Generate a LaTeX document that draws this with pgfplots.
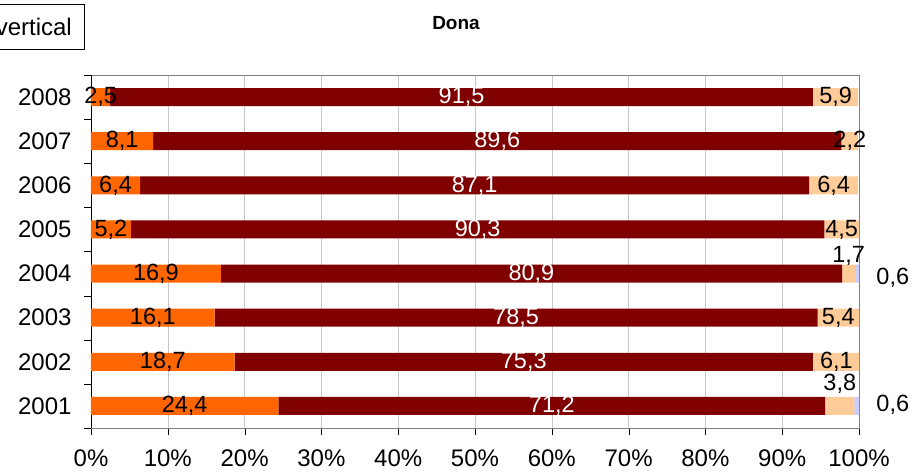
\documentclass[border=0pt]{standalone}
\usepackage{pgfplots}
\pgfplotsset{compat=1.18}
\usepackage{fontspec}
\setmainfont{Liberation Sans}
\definecolor{c1}{HTML}{FF6600}
\definecolor{c2}{HTML}{800000}
\definecolor{c3}{HTML}{FFCC99}
\definecolor{c4}{HTML}{CCCCFF}
\begin{document}
\begin{tikzpicture}
\useasboundingbox (0pt,0pt) rectangle (913pt,473pt);
\node[draw=black, fill=white, anchor=north east, minimum height=45pt, inner xsep=12pt, inner ysep=0pt, font=\fontsize{24}{28}\selectfont] at (84pt,469pt) {vertical};
\node[font=\bfseries\fontsize{19}{22}\selectfont] at (456pt,450pt) {Dona};
\begin{axis}[
  at={(91pt,45pt)}, anchor=south west, scale only axis, width=768pt, height=353pt,
  xmin=0, xmax=100, ymin=0.5, ymax=8.5,
  xbar stacked, bar width=18pt,
  xtick={0,10,...,100}, xticklabel={\pgfmathprintnumber{\tick}\%},
  ytick={1,2,3,4,5,6,7,8}, yticklabels={2001,2002,2003,2004,2005,2006,2007,2008},
  minor ytick={0.5,1.5,...,8.5},
  major y tick style={draw=none},
  tick align=outside, tick pos=left,
  major tick length=7pt, minor tick length=7pt,
  xmajorgrids, grid style={black!22},
  axis line style={black!50},
  tick style={black},
  ticklabel style={font=\fontsize{24}{28}\selectfont},
  /pgf/number format/assume math mode=true,
  yticklabel style={xshift=-9pt},
  xticklabel style={yshift=-11pt},
]
\addplot[fill=c1, draw=none] coordinates {(24.4,1) (18.7,2) (16.1,3) (16.9,4) (5.2,5) (6.4,6) (8.1,7) (2.5,8)};
\addplot[fill=c2, draw=none] coordinates {(71.2,1) (75.3,2) (78.5,3) (80.9,4) (90.3,5) (87.1,6) (89.6,7) (91.5,8)};
\addplot[fill=c3, draw=none] coordinates {(3.8,1) (6.1,2) (5.4,3) (1.7,4) (4.5,5) (6.4,6) (2.2,7) (5.9,8)};
\addplot[fill=c4, draw=none] coordinates {(0.6,1) (0,2) (0,3) (0.6,4) (0,5) (0,6) (0,7) (0,8)};
\draw[black] (axis cs:0,8.5) -- (axis cs:0,0.5) -- (axis cs:100,0.5);
\end{axis}
\begin{axis}[
  at={(91pt,45pt)}, anchor=south west, scale only axis, width=768pt, height=353pt,
  xmin=0, xmax=100, ymin=0.5, ymax=8.5, hide axis, clip=false,
  point meta=explicit symbolic,
  every node near coord/.append style={anchor=center, inner sep=0pt, font=\fontsize{23.5}{27}\selectfont},
]
\addplot[draw=none, mark=none, nodes near coords, every node near coord/.append style={text=black}] table[meta=l] {
x y l
12.2 1 24,4
9.35 2 18,7
8.05 3 16,1
8.45 4 16,9
2.6 5 5,2
3.2 6 6,4
4.05 7 8,1
1.25 8 2,5
97.5 1.5 3,8
97.05 2 6,1
97.3 3 5,4
98.65 4.41 1,7
97.75 5 4,5
96.7 6 6,4
98.8 7 2,2
96.95 8 5,9
104.4 1.02 0,6
104.4 3.9 0,6
};
\addplot[draw=none, mark=none, nodes near coords, every node near coord/.append style={text=white}] table[meta=l] {
x y l
60 1 71,2
56.35 2 75,3
55.35 3 78,5
57.35 4 80,9
50.35 5 90,3
49.95 6 87,1
52.9 7 89,6
48.25 8 91,5
};
\end{axis}
\end{tikzpicture}
\end{document}
